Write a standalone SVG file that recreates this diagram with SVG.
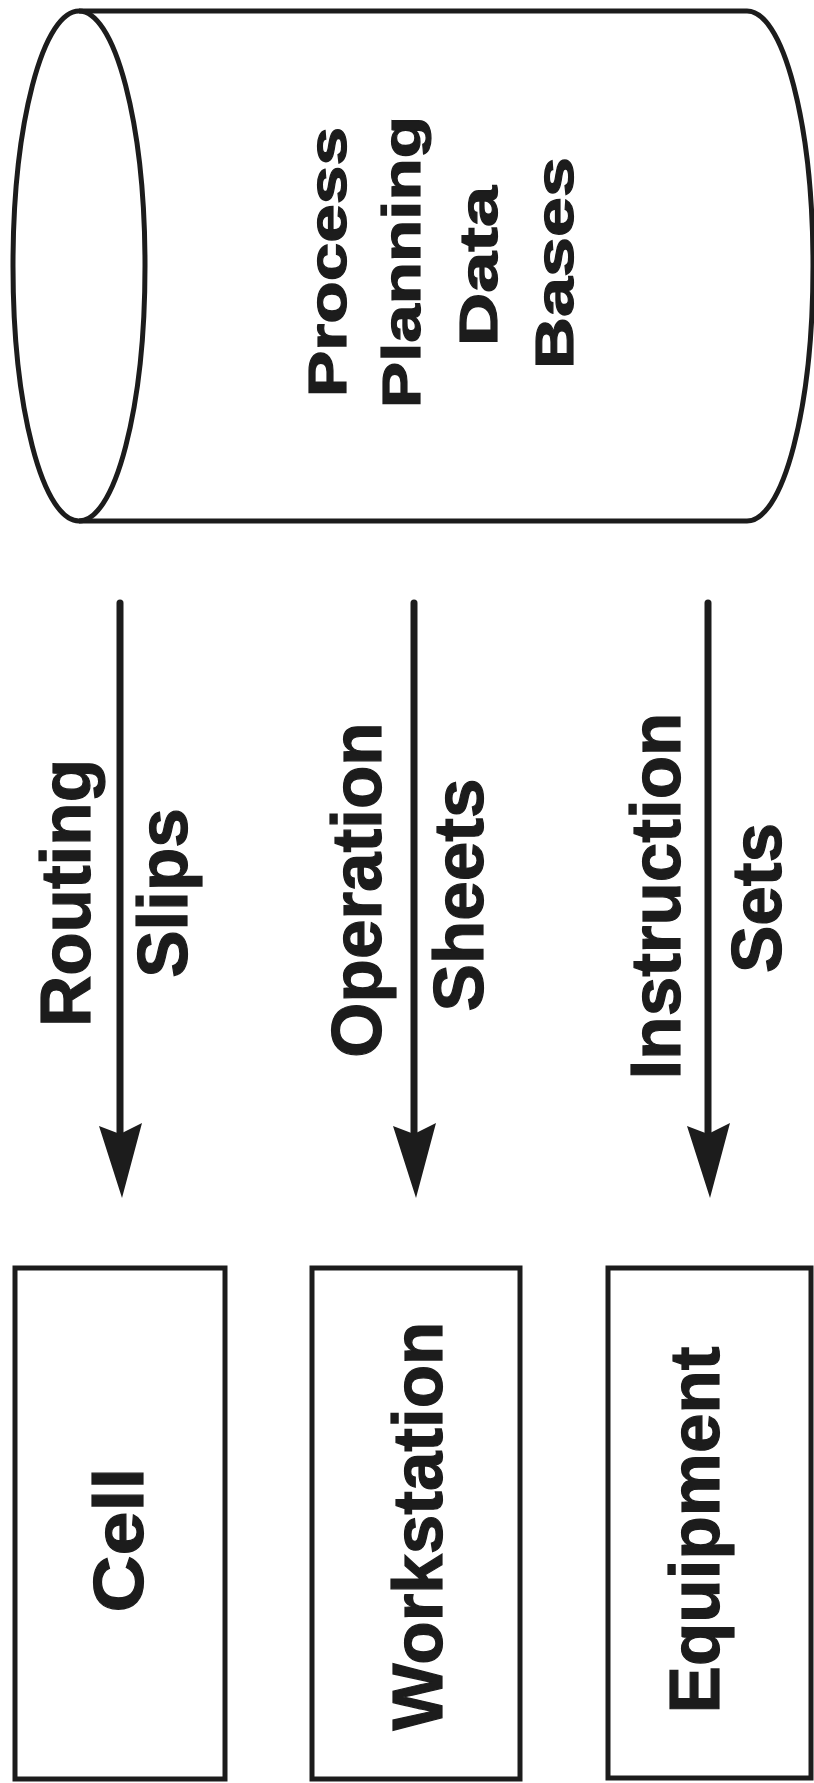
<svg xmlns="http://www.w3.org/2000/svg" width="814" height="1783" viewBox="0 0 814 1783">
<style>
.ln{fill:none;stroke:#1c1c1c;stroke-width:5;stroke-linejoin:round}
.bx{fill:#fff;stroke:#1c1c1c;stroke-width:5}
.t{font-family:"Liberation Sans",Arial,Helvetica,sans-serif;font-weight:bold;fill:#1c1c1c;stroke:#1c1c1c;stroke-width:1.2;text-anchor:middle}
.db{font-size:54px}
.lb{font-size:71px}
.ar{stroke:#1c1c1c;stroke-width:7;stroke-linecap:round}
.hd{fill:#1c1c1c}
</style>
<rect width="814" height="1783" fill="#fff"/>
<g id="database">
<path class="ln" d="M79,11 L747,11 A66,255 0 0 1 747,521 L79,521"/>
<ellipse class="ln" cx="79" cy="266" rx="66" ry="255"/>
<text class="t db" transform="translate(346,262) rotate(-90)" textLength="270" lengthAdjust="spacingAndGlyphs">Process</text>
<text class="t db" transform="translate(420,262) rotate(-90)" textLength="292" lengthAdjust="spacingAndGlyphs">Planning</text>
<text class="t db" transform="translate(497,266) rotate(-90)" textLength="160" lengthAdjust="spacingAndGlyphs">Data</text>
<text class="t db" transform="translate(573,263) rotate(-90)" textLength="212" lengthAdjust="spacingAndGlyphs">Bases</text>
</g>
<g id="connectors">
<g id="arrow-cell">
<line class="ar" x1="120" y1="603" x2="120" y2="1135"/>
<path class="hd" d="M99,1126 L120,1134 L142,1123 L122,1198 Z"/>
<text class="t lb" transform="translate(90,893) rotate(-90)">Routing</text>
<text class="t lb" transform="translate(187,893) rotate(-90)">Slips</text>
</g>
<g id="arrow-workstation">
<line class="ar" x1="414" y1="603" x2="414" y2="1135"/>
<path class="hd" d="M393,1126 L414,1134 L436,1123 L416,1198 Z"/>
<text class="t lb" transform="translate(381,890) rotate(-90)">Operation</text>
<text class="t lb" transform="translate(483,895) rotate(-90)">Sheets</text>
</g>
<g id="arrow-equipment">
<line class="ar" x1="708" y1="603" x2="708" y2="1135"/>
<path class="hd" d="M687,1126 L708,1134 L730,1123 L710,1198 Z"/>
<text class="t lb" transform="translate(680,896) rotate(-90)">Instruction</text>
<text class="t lb" transform="translate(781,898) rotate(-90)">Sets</text>
</g>
</g>
<g id="cell">
<rect class="bx" x="15" y="1268" width="210" height="511"/>
<text class="t lb" transform="translate(143,1540) rotate(-90)" textLength="145" lengthAdjust="spacingAndGlyphs">Cell</text>
</g>
<g id="workstation">
<rect class="bx" x="312" y="1268" width="208" height="511"/>
<text class="t lb" transform="translate(442,1526) rotate(-90)">Workstation</text>
</g>
<g id="equipment">
<rect class="bx" x="608" y="1268" width="203" height="510"/>
<text class="t lb" transform="translate(719,1530) rotate(-90)">Equipment</text>
</g>
</svg>
